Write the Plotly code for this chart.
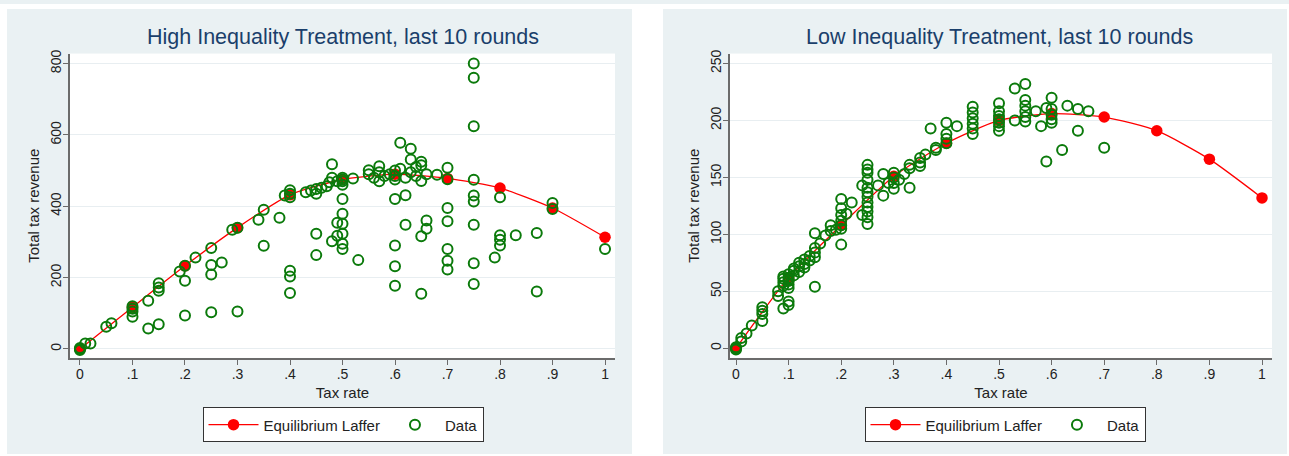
import plotly.graph_objects as go

# ---------------- data ----------------
laffer_x = [0, 0.1, 0.2, 0.3, 0.4, 0.5, 0.6, 0.7, 0.8, 0.9, 1.0]
laffer_high = [0, 117, 233, 340, 432, 475, 490, 478, 451, 395, 313]
laffer_low = [0, 62, 108, 151, 180, 200, 206, 203, 191, 166, 132]

high_x = [0, 0, 0, 0.01, 0.02, 0.05, 0.06,
          0.1, 0.1, 0.1, 0.1, 0.13, 0.13, 0.15, 0.15, 0.15, 0.15,
          0.19, 0.2, 0.2, 0.2, 0.22, 0.25, 0.25, 0.25, 0.25, 0.27,
          0.29, 0.3, 0.3, 0.34, 0.35, 0.35, 0.38, 0.39,
          0.4, 0.4, 0.4, 0.4, 0.4, 0.4, 0.43, 0.44, 0.45, 0.45, 0.45, 0.45,
          0.46, 0.47, 0.475, 0.48, 0.48, 0.48, 0.49, 0.49, 0.49,
          0.5, 0.5, 0.5, 0.5, 0.5, 0.5, 0.5, 0.5, 0.5, 0.5, 0.52, 0.53,
          0.55, 0.55, 0.56, 0.57, 0.57, 0.57, 0.58, 0.59, 0.6, 0.6, 0.6, 0.6, 0.6, 0.6, 0.6,
          0.61, 0.61, 0.62, 0.62, 0.62, 0.63, 0.63, 0.63, 0.64, 0.64,
          0.65, 0.65, 0.65, 0.65, 0.65, 0.66, 0.66, 0.66,
          0.68, 0.7, 0.7, 0.7, 0.7, 0.7, 0.7, 0.7,
          0.75, 0.75, 0.75, 0.75, 0.75, 0.75, 0.75, 0.75, 0.75,
          0.79, 0.8, 0.8, 0.8, 0.8, 0.83, 0.87, 0.87, 0.9, 0.9, 1.0]
high_y = [0, 3, -3, 15, 15, 62, 72,
          120, 105, 90, 113, 135, 57, 184, 172, 163, 69,
          217, 233, 191, 94, 256, 283, 235, 209, 103, 242,
          334, 340, 105, 362, 390, 289, 368, 430,
          445, 435, 425, 219, 203, 157, 439, 444, 448, 435, 323, 263,
          452, 456, 467, 518, 480, 302, 354, 317, 470,
          480, 470, 460, 475, 420, 379, 351, 323, 295, 280, 478, 249,
          501, 490, 480, 512, 495, 470, 485, 490, 500, 485, 475, 420, 290, 232, 177,
          578, 505, 480, 431, 348, 561, 531, 495, 510, 485,
          525, 515, 471, 316, 155, 360, 337, 490,
          488, 508, 476, 395, 358, 280, 247, 223,
          800, 760, 624, 474, 430, 413, 348, 240, 182,
          256, 425, 319, 306, 290, 319, 325, 161, 409, 392, 280]

low_x = [0, 0, 0, 0.01, 0.01, 0.02, 0.03,
         0.05, 0.05, 0.05, 0.05,
         0.08, 0.08, 0.09, 0.1, 0.1,
         0.09, 0.09, 0.09, 0.09, 0.1, 0.1, 0.1, 0.1, 0.1, 0.1,
         0.11, 0.11, 0.11, 0.12, 0.12, 0.12, 0.13, 0.13, 0.13, 0.14, 0.14,
         0.15, 0.15, 0.15, 0.15, 0.15, 0.16, 0.17, 0.18, 0.18, 0.19,
         0.2, 0.2, 0.2, 0.2, 0.2, 0.2, 0.2, 0.21, 0.22,
         0.24, 0.24, 0.25, 0.25, 0.25, 0.25, 0.25, 0.25, 0.25, 0.25, 0.25, 0.25, 0.25, 0.25,
         0.27, 0.28, 0.28, 0.29, 0.3, 0.3, 0.3, 0.3, 0.31, 0.32, 0.33, 0.33, 0.33,
         0.35, 0.35, 0.35, 0.36, 0.37, 0.38, 0.38,
         0.4, 0.4, 0.4, 0.4, 0.42,
         0.45, 0.45, 0.45, 0.45, 0.45, 0.45,
         0.5, 0.5, 0.5, 0.5, 0.5, 0.5, 0.5,
         0.53, 0.53, 0.55, 0.55, 0.55, 0.55, 0.55, 0.55, 0.57, 0.58, 0.59, 0.59,
         0.6, 0.6, 0.6, 0.6, 0.6, 0.62, 0.63, 0.65, 0.65, 0.67, 0.7]
low_y = [0, 1, -1, 6, 9, 13, 20,
         33, 36, 24, 30,
         50, 46, 35, 41, 38,
         55, 58, 61, 63, 56, 59, 62, 65, 60, 53,
         64, 68, 70, 67, 72, 75, 74, 78, 71, 77, 81,
         101, 54, 80, 84, 88, 92, 99, 108, 103, 104,
         131, 123, 117, 112, 108, 105, 91, 118, 128,
         143, 117, 161, 157, 154, 148, 141, 133, 128, 124, 115, 109, 120, 137,
         143, 153, 134, 145, 154, 150, 145, 140, 148, 153, 141, 161, 158,
         167, 163, 160, 170, 193, 176, 174,
         198, 188, 184, 180, 195,
         212, 207, 202, 197, 193, 188,
         215, 208, 204, 201, 198, 195, 191,
         228, 200, 232, 218, 213, 208, 203, 199, 208, 195, 211, 164,
         220, 210, 205, 201, 198, 174, 213, 210, 191, 208, 176]

x_ticks = [0, 0.1, 0.2, 0.3, 0.4, 0.5, 0.6, 0.7, 0.8, 0.9, 1.0]
x_ticktext = ["0", ".1", ".2", ".3", ".4", ".5", ".6", ".7", ".8", ".9", "1"]
high_yticks = [0, 200, 400, 600, 800]
low_yticks = [0, 50, 100, 150, 200, 250]

titles = ["High Inequality Treatment, last 10 rounds", "Low Inequality Treatment, last 10 rounds"]

# ---------------- style ----------------
W, H = 1289, 456
BG = "#eaf1f3"
NAVY = "#1a3f6b"
RED = "#ff0000"
GREEN = "#0b7a0b"
AX = "#6b6b6b"
GRID = "#e8eef1"
TXT = "#222222"
FONT = "Liberation Sans, Arial, sans-serif"

fig = go.Figure()

fig.add_trace(go.Scatter(x=laffer_x, y=laffer_high, mode="lines+markers", name="Equilibrium Laffer",
                         line=dict(color=RED, width=1.3, shape="spline", smoothing=0.6),
                         marker=dict(color=RED, size=11.5), xaxis="x", yaxis="y", legend="legend"))
fig.add_trace(go.Scatter(x=high_x, y=high_y, mode="markers", name="Data",
                         marker=dict(symbol="circle-open", color=GREEN, size=10, line=dict(width=2, color=GREEN)),
                         xaxis="x", yaxis="y", legend="legend"))
fig.add_trace(go.Scatter(x=laffer_x, y=laffer_low, mode="lines+markers", name="Equilibrium Laffer",
                         line=dict(color=RED, width=1.3, shape="spline", smoothing=0.6),
                         marker=dict(color=RED, size=11.5), xaxis="x2", yaxis="y2", legend="legend2"))
fig.add_trace(go.Scatter(x=low_x, y=low_y, mode="markers", name="Data",
                         marker=dict(symbol="circle-open", color=GREEN, size=10, line=dict(width=2, color=GREEN)),
                         xaxis="x2", yaxis="y2", legend="legend2"))

ydom = [1 - 357 / H, 1 - 50 / H]
xdom1 = [70 / W, 615 / W]
xdom2 = [730 / W, 1272 / W]

common_x = dict(tickvals=x_ticks, ticktext=x_ticktext, showline=True, linecolor=AX, linewidth=1.5,
                ticks="outside", ticklen=5, tickcolor=AX, tickwidth=1.2, showgrid=False, zeroline=False,
                ticklabelstandoff=-2,
                tickfont=dict(size=14, color=TXT, family=FONT),
                title=dict(text="Tax rate", font=dict(size=15, color=TXT, family=FONT), standoff=6))
common_y = dict(showline=True, linecolor=AX, linewidth=1.5, ticks="outside", ticklen=5, tickcolor=AX,
                tickwidth=1.2, showgrid=True, gridcolor=GRID, gridwidth=1.2, zeroline=False, tickangle=-90,
                ticklabelstandoff=-3,
                tickfont=dict(size=14, color=TXT, family=FONT),
                title=dict(text="Total tax revenue", font=dict(size=15, color=TXT, family=FONT), standoff=4))

legend_common = dict(orientation="h", xanchor="center", y=1 - 407 / H, yanchor="top",
                     bgcolor="white", bordercolor="#333333", borderwidth=1,
                     font=dict(size=15, color=TXT, family=FONT), itemwidth=50)

fig.update_layout(
    width=W, height=H, margin=dict(l=0, r=0, t=0, b=0),
    paper_bgcolor=BG, plot_bgcolor="white", font=dict(family=FONT),
    xaxis=dict(domain=xdom1, range=[-0.019, 1.019], anchor="y", **common_x),
    yaxis=dict(domain=ydom, range=[-25, 828], tickvals=high_yticks, anchor="x", **common_y),
    xaxis2=dict(domain=xdom2, range=[-0.0114, 1.019], anchor="y2", **common_x),
    yaxis2=dict(domain=ydom, range=[-8.4, 258.7], tickvals=low_yticks, anchor="x2", **common_y),
    legend=dict(x=343 / W, **legend_common),
    legend2=dict(x=1005 / W, **legend_common),
    showlegend=True,
)

# white borders / gap between the two panels
for x0, x1, y0, y1 in [(0, 7, 0, H), (W - 2, W, 0, H), (0, W, 0, 5), (0, W, H - 2, H), (632, 663, 0, H)]:
    fig.add_shape(type="rect", xref="paper", yref="paper", x0=x0 / W, x1=x1 / W,
                  y0=1 - y1 / H, y1=1 - y0 / H, fillcolor="white", line=dict(width=0), layer="below")

for cx, t in zip([343 / W, 999 / W], titles):
    fig.add_annotation(text=t, x=cx, y=1 - 33 / H, xref="paper", yref="paper", showarrow=False,
                       xanchor="center", yanchor="middle", font=dict(size=21.5, color=NAVY, family=FONT))

fig.write_html("out.html")
